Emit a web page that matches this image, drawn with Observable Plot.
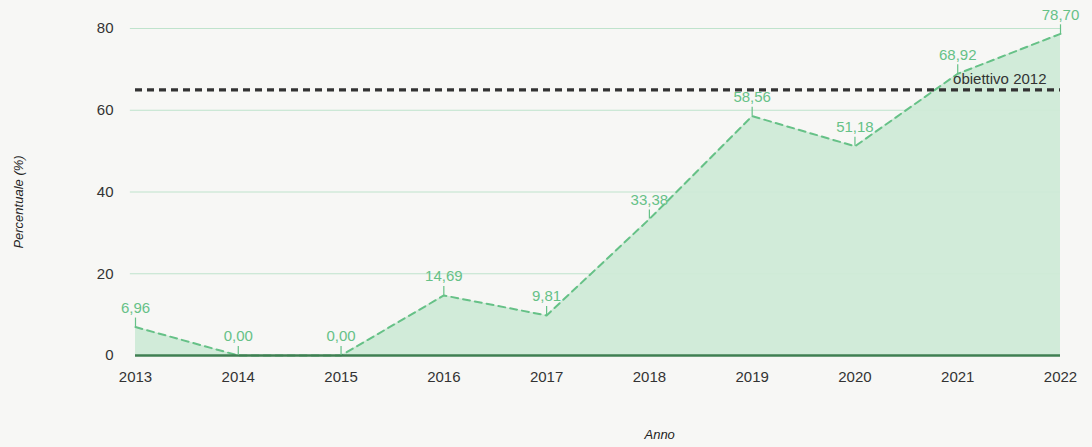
<!DOCTYPE html>
<html>
<head>
<meta charset="utf-8">
<script src="https://cdn.jsdelivr.net/npm/d3@7"></script>
<script src="https://cdn.jsdelivr.net/npm/@observablehq/plot@0.6"></script>
<style>
  html, body { margin: 0; padding: 0; background: #f7f7f5; }
  #chart { width: 1092px; height: 447px; }
  svg { font-family: "Liberation Sans", Arial, sans-serif; }
</style>
</head>
<body>
<div id="chart"></div>
<script>
const years = [2013, 2014, 2015, 2016, 2017, 2018, 2019, 2020, 2021, 2022];
const values = [6.96, 0.00, 0.00, 14.69, 9.81, 33.38, 58.56, 51.18, 68.92, 78.70];
const yTicks = [0, 20, 40, 60, 80];
const objectiveValue = 65;
const objectiveLabel = "obiettivo 2012";

const data = years.map((y, i) => ({year: y, value: values[i], label: values[i].toFixed(2).replace(".", ",")}));
const fmt = d => String(d);

const green = "#66c187";

const plot = Plot.plot({
  width: 1092,
  height: 447,
  marginLeft: 135,
  marginRight: 32,
  marginTop: 28,
  marginBottom: 92,
  style: {background: "transparent", fontSize: "15px", color: "#333"},
  x: {domain: [2013, 2022], ticks: years, tickFormat: fmt, tickSize: 0, tickPadding: 16, label: null},
  y: {domain: [0, 80], ticks: yTicks, tickSize: 0, tickPadding: 22, label: null},
  marks: [
    Plot.gridY(yTicks.filter(t => t > 0), {stroke: "#bfe3cc", strokeOpacity: 1, strokeWidth: 1, x1: 2012.95, x2: 2022}),
    Plot.areaY(data, {x: "year", y: "value", fill: "#cfead7", fillOpacity: 0.95}),
    Plot.lineY(data, {x: "year", y: "value", stroke: green, strokeWidth: 2, strokeDasharray: "7,5"}),
    Plot.ruleY([0], {x1: 2013, x2: 2022, stroke: "#3f7f52", strokeWidth: 2.5}),
    Plot.ruleY([objectiveValue], {x1: 2013, x2: 2022, stroke: "#333", strokeWidth: 3.2, strokeDasharray: "7,5"}),
    Plot.text([objectiveLabel], {x: 2022, y: objectiveValue, text: d => d, textAnchor: "end", dx: -14, dy: -11, fill: "#333", fontSize: 15}),
    Plot.ruleX(data, {x: "year", y1: "value", y2: "value", insetBottom: 9, stroke: green, strokeWidth: 1.2}),
    Plot.text(data, {x: "year", y: "value", text: "label", dy: -19, fill: green, fontSize: 15}),
    Plot.axisX({ticks: years, tickFormat: fmt, tickSize: 0, tickPadding: 16, fontSize: 15, fill: "#333", label: null}),
    Plot.axisY({ticks: yTicks, tickSize: 0, tickPadding: 22, fontSize: 15, fill: "#333", label: null}),
    Plot.text(["Anno"], {frameAnchor: "bottom", x: 2018.1, dy: 83, text: d => d, fontStyle: "italic", fontSize: 13, fill: "#222"}),
    Plot.text(["Percentuale (%)"], {frameAnchor: "left", textAnchor: "middle", dx: -117, dy: 10, text: d => d, rotate: -90, fontStyle: "italic", fontSize: 13, fill: "#222"})
  ]
});
document.getElementById("chart").appendChild(plot);
</script>
</body>
</html>
